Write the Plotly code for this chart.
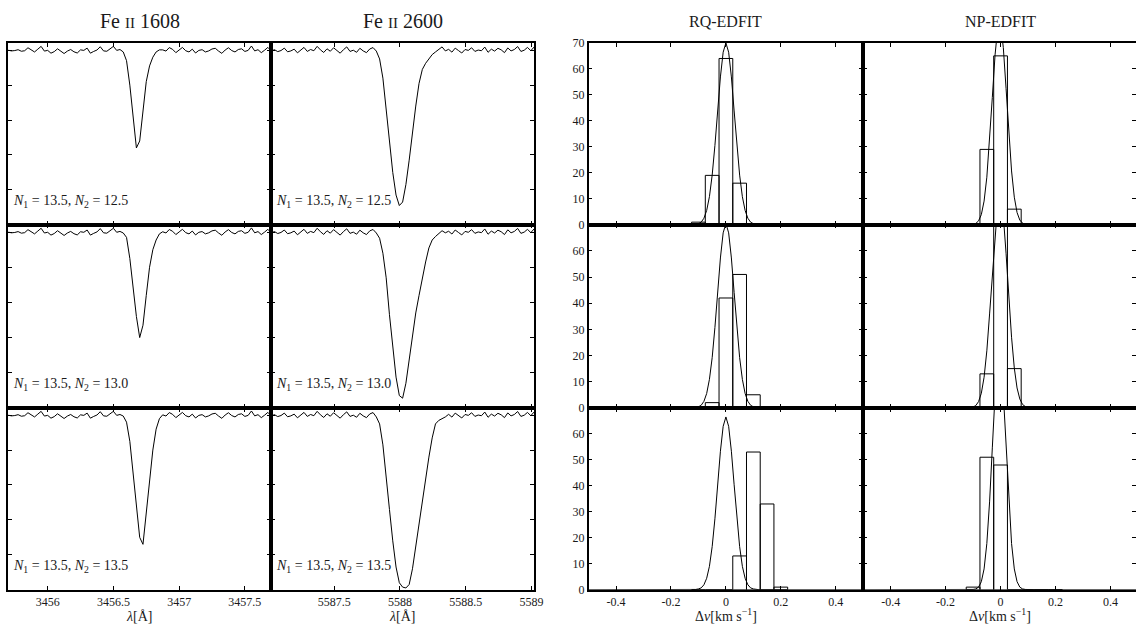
import plotly.graph_objects as go

W, H = 1145, 628

# ---------------- spectra data ----------------
wl_1608 = [3455.700, 3455.725, 3455.750, 3455.775, 3455.800, 3455.825, 3455.850, 3455.875, 3455.900, 3455.925,
           3455.950, 3455.975, 3456.000, 3456.025, 3456.050, 3456.075, 3456.100, 3456.125, 3456.150, 3456.175,
           3456.200, 3456.225, 3456.250, 3456.275, 3456.300, 3456.325, 3456.350, 3456.375, 3456.400, 3456.425,
           3456.450, 3456.475, 3456.500, 3456.525, 3456.550, 3456.575, 3456.600, 3456.625, 3456.650, 3456.675,
           3456.700, 3456.725, 3456.750, 3456.775, 3456.800, 3456.825, 3456.850, 3456.875, 3456.900, 3456.925,
           3456.950, 3456.975, 3457.000, 3457.025, 3457.050, 3457.075, 3457.100, 3457.125, 3457.150, 3457.175,
           3457.200, 3457.225, 3457.250, 3457.275, 3457.300, 3457.325, 3457.350, 3457.375, 3457.400, 3457.425,
           3457.450, 3457.475, 3457.500, 3457.525, 3457.550, 3457.575, 3457.600, 3457.625, 3457.650, 3457.675,
           3457.700]

wl_2600 = [5587.020, 5587.045, 5587.070, 5587.095, 5587.120, 5587.145, 5587.170, 5587.195, 5587.220, 5587.245,
           5587.270, 5587.295, 5587.320, 5587.345, 5587.370, 5587.395, 5587.420, 5587.445, 5587.470, 5587.495,
           5587.520, 5587.545, 5587.570, 5587.595, 5587.620, 5587.645, 5587.670, 5587.695, 5587.720, 5587.745,
           5587.770, 5587.795, 5587.820, 5587.845, 5587.870, 5587.895, 5587.920, 5587.945, 5587.970, 5587.995,
           5588.020, 5588.045, 5588.070, 5588.095, 5588.120, 5588.145, 5588.170, 5588.195, 5588.220, 5588.245,
           5588.270, 5588.295, 5588.320, 5588.345, 5588.370, 5588.395, 5588.420, 5588.445, 5588.470, 5588.495,
           5588.520, 5588.545, 5588.570, 5588.595, 5588.620, 5588.645, 5588.670, 5588.695, 5588.720, 5588.745,
           5588.770, 5588.795, 5588.820, 5588.845, 5588.870, 5588.895, 5588.920, 5588.945, 5588.970, 5588.995,
           5589.020]

flux_1608_n125 = [1.000, 0.996, 0.998, 1.003, 0.994, 0.997, 1.014, 1.001, 0.990, 1.006,
                  1.022, 0.995, 0.999, 0.983, 0.992, 1.008, 0.996, 0.981, 0.995, 1.004,
                  0.991, 0.984, 1.002, 0.999, 1.012, 0.983, 0.993, 1.001, 1.020, 0.996,
                  0.994, 1.009, 1.022, 0.999, 1.004, 0.990, 0.940, 0.800, 0.620, 0.440,
                  0.480, 0.660, 0.820, 0.910, 0.960, 0.990, 1.002, 1.002, 0.995, 1.015,
                  1.005, 0.986, 1.001, 1.016, 0.997, 0.990, 1.006, 0.984, 0.999, 1.003,
                  0.990, 0.996, 1.007, 1.011, 0.995, 0.982, 1.001, 1.014, 0.998, 0.990,
                  1.004, 1.008, 0.993, 0.999, 1.024, 0.996, 1.003, 0.986, 1.000, 1.016,
                  0.997]

flux_1608_n130 = [1.000, 0.996, 0.998, 1.003, 0.994, 0.997, 1.014, 1.001, 0.990, 1.006,
                  1.022, 0.995, 0.999, 0.983, 0.992, 1.008, 0.996, 0.981, 0.995, 1.004,
                  0.991, 0.984, 1.002, 0.999, 1.012, 0.983, 0.993, 1.001, 1.020, 0.996,
                  0.994, 1.009, 1.022, 0.999, 1.004, 0.995, 0.970, 0.850, 0.670, 0.520,
                  0.400, 0.470, 0.640, 0.800, 0.900, 0.955, 0.990, 1.002, 0.995, 1.015,
                  1.005, 0.986, 1.001, 1.016, 0.997, 0.990, 1.006, 0.984, 0.999, 1.003,
                  0.990, 0.996, 1.007, 1.011, 0.995, 0.982, 1.001, 1.014, 0.998, 0.990,
                  1.004, 1.008, 0.993, 0.999, 1.024, 0.996, 1.003, 0.986, 1.000, 1.016,
                  0.997]

flux_1608_n135 = [1.000, 0.996, 0.998, 1.003, 0.994, 0.997, 1.014, 1.001, 0.990, 1.006,
                  1.022, 0.995, 0.999, 0.983, 0.992, 1.008, 0.996, 0.981, 0.995, 1.004,
                  0.991, 0.984, 1.002, 0.999, 1.012, 0.983, 0.993, 1.001, 1.020, 0.996,
                  0.994, 1.009, 1.022, 0.999, 1.004, 0.995, 0.960, 0.850, 0.660, 0.470,
                  0.300, 0.260, 0.430, 0.630, 0.800, 0.920, 0.980, 1.002, 0.995, 1.015,
                  1.005, 0.986, 1.001, 1.016, 0.997, 0.990, 1.006, 0.984, 0.999, 1.003,
                  0.990, 0.996, 1.007, 1.011, 0.995, 0.982, 1.001, 1.014, 0.998, 0.990,
                  1.004, 1.008, 0.993, 0.999, 1.024, 0.996, 1.003, 0.986, 1.000, 1.016,
                  0.997]

flux_2600_n125 = [0.995, 1.003, 0.992, 0.998, 1.012, 0.991, 0.996, 1.006, 0.985, 1.001,
                  1.016, 0.993, 1.004, 0.997, 1.022, 1.002, 0.987, 1.008, 0.994, 1.014,
                  0.999, 0.983, 1.003, 1.019, 0.993, 1.000, 0.988, 1.011, 0.996, 0.986,
                  1.007, 1.015, 0.995, 0.950, 0.840, 0.660, 0.470, 0.300, 0.170, 0.110,
                  0.130, 0.230, 0.370, 0.530, 0.680, 0.810, 0.890, 0.925, 0.950, 0.975,
                  0.990, 1.003, 1.019, 0.996, 1.005, 0.989, 1.012, 0.998, 0.984, 1.004,
                  0.999, 1.014, 0.993, 1.001, 0.997, 1.018, 0.988, 1.006, 0.995, 1.011,
                  1.002, 0.986, 1.013, 0.996, 1.004, 1.021, 0.993, 1.000, 1.016, 0.997,
                  1.018]

flux_2600_n130 = [0.995, 1.003, 0.992, 0.998, 1.012, 0.991, 0.996, 1.006, 0.985, 1.001,
                  1.016, 0.993, 1.004, 0.997, 1.022, 1.002, 0.987, 1.008, 0.994, 1.014,
                  0.999, 0.983, 1.003, 1.019, 0.993, 1.000, 0.988, 1.011, 0.996, 0.986,
                  1.007, 1.015, 0.995, 0.965, 0.880, 0.740, 0.530, 0.340, 0.175, 0.070,
                  0.055, 0.140, 0.280, 0.420, 0.540, 0.640, 0.740, 0.830, 0.910, 0.955,
                  0.975, 0.990, 1.008, 0.996, 1.005, 0.989, 1.012, 0.998, 0.984, 1.004,
                  0.999, 1.014, 0.993, 1.001, 0.997, 1.018, 0.988, 1.006, 0.995, 1.011,
                  1.002, 0.986, 1.013, 0.996, 1.004, 1.021, 0.993, 1.000, 1.016, 0.997,
                  1.018]

flux_2600_n135 = [0.995, 1.003, 0.992, 0.998, 1.012, 0.991, 0.996, 1.006, 0.985, 1.001,
                  1.016, 0.993, 1.004, 0.997, 1.022, 1.002, 0.987, 1.008, 0.994, 1.014,
                  0.999, 0.983, 1.003, 1.019, 0.993, 1.000, 0.988, 1.011, 0.996, 0.986,
                  1.007, 1.015, 0.990, 0.950, 0.830, 0.660, 0.460, 0.280, 0.130, 0.040,
                  0.015, 0.010, 0.030, 0.120, 0.250, 0.380, 0.510, 0.640, 0.760, 0.870,
                  0.950, 0.970, 0.980, 0.990, 1.005, 0.989, 1.012, 0.998, 0.984, 1.004,
                  0.999, 1.014, 0.993, 1.001, 0.997, 1.018, 0.988, 1.006, 0.995, 1.011,
                  1.002, 0.986, 1.013, 0.996, 1.004, 1.021, 0.993, 1.000, 1.016, 0.997,
                  1.018]

spec_labels = ["<i>N</i><sub>1</sub> = 13.5, <i>N</i><sub>2</sub> = 12.5",
               "<i>N</i><sub>1</sub> = 13.5, <i>N</i><sub>2</sub> = 13.0",
               "<i>N</i><sub>1</sub> = 13.5, <i>N</i><sub>2</sub> = 13.5"]

# ---------------- histogram data ----------------
vel_bins = [-0.1, -0.05, 0.0, 0.05, 0.1, 0.15, 0.2]
rq_counts_n125 = [1, 19, 64, 16, 0, 0, 0]
rq_counts_n130 = [0, 2, 42, 51, 5, 0, 0]
rq_counts_n135 = [0, 0, 0, 13, 53, 33, 1]
np_counts_n125 = [0, 29, 65, 6, 0, 0, 0]
np_counts_n130 = [0, 13, 72, 15, 0, 0, 0]
np_counts_n135 = [1, 51, 48, 0, 0, 0, 0]

gauss_v = [-0.5, -0.12, -0.11, -0.10, -0.09, -0.08, -0.07, -0.06, -0.05, -0.04, -0.03, -0.02, -0.01, 0.0,
           0.01, 0.02, 0.03, 0.04, 0.05, 0.06, 0.07, 0.08, 0.09, 0.10, 0.11, 0.12, 0.5]
rq_gauss_n125 = [0, 0.0, 0.1, 0.4, 1.0, 2.5, 5.5, 10.8, 19.1, 30.5, 43.8, 56.9, 66.4, 70.0,
                 66.4, 56.9, 43.8, 30.5, 19.1, 10.8, 5.5, 2.5, 1.0, 0.4, 0.1, 0.0, 0]
rq_gauss_n130 = [0, 0.0, 0.1, 0.4, 1.0, 2.5, 5.5, 10.9, 19.2, 30.7, 44.1, 57.3, 66.9, 70.5,
                 66.9, 57.3, 44.1, 30.7, 19.2, 10.9, 5.5, 2.5, 1.0, 0.4, 0.1, 0.0, 0]
rq_gauss_n135 = [0, 0.0, 0.1, 0.3, 0.7, 1.9, 4.4, 9.0, 16.6, 27.3, 40.4, 53.3, 62.9, 66.5,
                 62.9, 53.3, 40.4, 27.3, 16.6, 9.0, 4.4, 1.9, 0.7, 0.3, 0.1, 0.0, 0]
np_gauss_n125 = [0, 0.0, 0.0, 0.1, 0.5, 1.5, 3.9, 9.1, 18.3, 32.1, 49.0, 65.4, 76.1, 77.2,
                 68.2, 52.5, 35.3, 20.7, 10.6, 4.7, 1.8, 0.6, 0.2, 0.0, 0.0, 0.0, 0]
np_gauss_n130 = [0, 0.0, 0.1, 0.3, 0.9, 2.4, 5.6, 11.7, 21.8, 35.9, 52.5, 68.2, 78.7, 80.6,
                 73.3, 59.1, 42.4, 27.0, 15.2, 7.6, 3.4, 1.3, 0.5, 0.1, 0.0, 0.0, 0]
np_gauss_n135 = [0, 0.0, 0.0, 0.1, 0.3, 1.0, 3.1, 8.0, 17.8, 33.8, 54.6, 75.2, 88.2, 88.2,
                 75.2, 54.6, 33.8, 17.8, 8.0, 3.1, 1.0, 0.3, 0.1, 0.0, 0.0, 0.0, 0]

# ---------------- ticks / titles ----------------
col_titles = ["Fe <span style='font-size:15px'>II</span> 1608",
              "Fe <span style='font-size:15px'>II</span> 2600",
              "RQ-EDFIT", "NP-EDFIT"]
wl_1608_ticks = [3456, 3456.5, 3457, 3457.5]
wl_1608_ticktext = ["3456", "3456.5", "3457", "3457.5"]
wl_2600_ticks = [5587.5, 5588, 5588.5, 5589]
wl_2600_ticktext = ["5587.5", "5588", "5588.5", "5589"]
vel_ticks = [-0.4, -0.2, 0, 0.2, 0.4]
vel_ticktext = ["-0.4", "-0.2", "0", "0.2", "0.4"]
count_ticks_top = [0, 10, 20, 30, 40, 50, 60, 70]
count_ticks = [0, 10, 20, 30, 40, 50, 60]
flux_ticks = [0, 0.2, 0.4, 0.6, 0.8, 1.0]

# ---------------- layout geometry (pixels) ----------------
col_px = [(8.3, 273.3), (273.3, 538.3), (593.3, 870.0), (870.0, 1145.0)]
row_px = [(36.7, 222.7), (222.7, 410.0), (410.0, 596.0)]
col_range = [[3455.70, 3457.70], [5587.02, 5589.02], [-0.5, 0.5], [-0.5, 0.4928]]

FONT = "Liberation Serif"
TXT = "#1a1a1a"


def px_x(p):
    return p / W


def px_y(p):
    return 1 - p / H


fig = go.Figure()

spectra = [[flux_1608_n125, flux_2600_n125],
           [flux_1608_n130, flux_2600_n130],
           [flux_1608_n135, flux_2600_n135]]
rq_counts = [rq_counts_n125, rq_counts_n130, rq_counts_n135]
np_counts = [np_counts_n125, np_counts_n130, np_counts_n135]
rq_gauss = [rq_gauss_n125, rq_gauss_n130, rq_gauss_n135]
np_gauss = [np_gauss_n125, np_gauss_n130, np_gauss_n135]

layout = {}
annotations = []
axis_common = dict(showgrid=False, zeroline=False, showline=True, linecolor="black", linewidth=1.5,
                   ticks="inside", ticklen=4, tickwidth=1, tickcolor="black",
                   tickfont=dict(family=FONT, size=12, color=TXT))

extra_n = 12
for r in range(3):
    for c in range(4):
        n = r * 4 + c + 1
        xs = "x" if n == 1 else f"x{n}"
        ys = "y" if n == 1 else f"y{n}"
        xkey = "xaxis" if n == 1 else f"xaxis{n}"
        ykey = "yaxis" if n == 1 else f"yaxis{n}"
        xd = [px_x(col_px[c][0]), px_x(col_px[c][1])]
        yd = [px_y(row_px[r][1]), px_y(row_px[r][0])]

        if c == 0:
            xt, xtt = wl_1608_ticks, wl_1608_ticktext
        elif c == 1:
            xt, xtt = wl_2600_ticks, wl_2600_ticktext
        else:
            xt, xtt = vel_ticks, vel_ticktext

        layout[xkey] = dict(axis_common, domain=xd, range=col_range[c], anchor=ys,
                            tickvals=xt, ticktext=xtt, showticklabels=(r == 2), mirror="ticks")

        if c < 2:
            layout[ykey] = dict(axis_common, domain=yd, range=[0, 1.042], anchor=xs,
                                tickvals=flux_ticks, showticklabels=False, mirror="ticks")
            wl = wl_1608 if c == 0 else wl_2600
            fig.add_trace(go.Scatter(x=wl, y=spectra[r][c], mode="lines",
                                     line=dict(color="black", width=1), xaxis=xs, yaxis=ys,
                                     hoverinfo="skip"))
            annotations.append(dict(text=spec_labels[r], xref=f"{xs} domain", yref=f"{ys} domain",
                                    x=0.012, y=0.13, xanchor="left", yanchor="middle", showarrow=False,
                                    font=dict(family=FONT, size=14, color=TXT)))
        else:
            yt = count_ticks_top if r == 0 else count_ticks
            counts = rq_counts[r] if c == 2 else np_counts[r]
            gauss = rq_gauss[r] if c == 2 else np_gauss[r]
            layout[ykey] = dict(axis_common, domain=yd, range=[0, 70], anchor=xs,
                                tickvals=yt, ticktext=[str(v) for v in yt],
                                showticklabels=(c == 2), mirror=("ticks" if c == 2 else False))
            fig.add_trace(go.Bar(x=vel_bins, y=counts, width=0.05,
                                 marker=dict(color="rgba(0,0,0,0)", line=dict(color="black", width=1)),
                                 xaxis=xs, yaxis=ys, hoverinfo="skip"))
            fig.add_trace(go.Scatter(x=gauss_v, y=gauss, mode="lines",
                                     line=dict(color="black", width=1), xaxis=xs, yaxis=ys,
                                     hoverinfo="skip"))
            if c == 3:
                extra_n += 1
                ek = f"yaxis{extra_n}"
                layout[ek] = dict(axis_common, showline=False, range=[0, 70], anchor=xs,
                                  overlaying=ys, side="right", tickvals=yt, showticklabels=False)
                fig.add_trace(go.Scatter(x=[None], y=[None], mode="lines", xaxis=xs,
                                         yaxis=f"y{extra_n}", showlegend=False, hoverinfo="skip"))

# column titles
title_x = [140.8, 405.8, 731.7, 1008.3]
title_y = [px_y(14), px_y(14), px_y(15), px_y(15)]
for c in range(4):
    size = 20 if c < 2 else 16
    annotations.append(dict(text=col_titles[c], xref="paper", yref="paper",
                            x=px_x(title_x[c]), y=title_y[c], xanchor="center", yanchor="middle",
                            showarrow=False, font=dict(family=FONT, size=size, color=TXT)))

# x axis labels
xlab = ["<i>λ</i>[Å]", "<i>λ</i>[Å]", "Δ<i>v</i>[km s<sup>−1</sup>]", "Δ<i>v</i>[km s<sup>−1</sup>]"]
xlab_size = [14, 14, 14, 14]
for c in range(4):
    annotations.append(dict(text=xlab[c], xref="paper", yref="paper", x=px_x(title_x[c]), y=0.0,
                            xanchor="center", yanchor="bottom", yshift=-5, showarrow=False,
                            font=dict(family=FONT, size=xlab_size[c], color=TXT)))

fig.update_layout(width=W, height=H, margin=dict(l=0, r=0, t=0, b=0),
                  paper_bgcolor="white", plot_bgcolor="white", showlegend=False,
                  annotations=annotations, **layout)

fig.write_html("out.html")
